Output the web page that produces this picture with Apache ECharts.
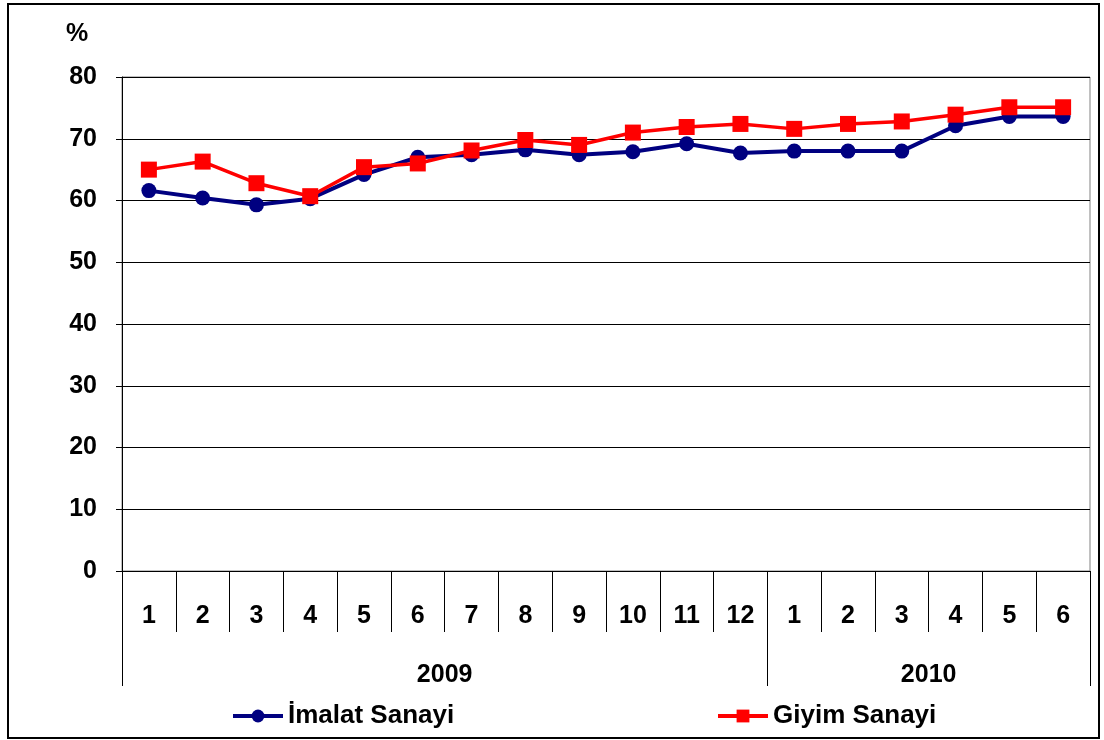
<!DOCTYPE html>
<html>
<head>
<meta charset="utf-8">
<script src="https://cdn.jsdelivr.net/npm/echarts@6/dist/echarts.min.js"></script>
<style>
  body { margin: 0; background: #fff; }
  #frame { position: absolute; left: 7px; top: 3px; width: 1089px; height: 732px; border: 2px solid #000; }
  #chart { position: absolute; left: 0; top: 0; width: 1104px; height: 740px; }
</style>
</head>
<body>
<div id="frame"></div>
<div id="chart"></div>
<script>
const monthLabels = ['1', '2', '3', '4', '5', '6', '7', '8', '9', '10', '11', '12', '1', '2', '3', '4', '5', '6'];
const years = ['2009', '2010'];
const monthsPerYear = [12, 6];
const yTicks = { min: 0, max: 80, interval: 10 };

const imalat = [61.6, 60.4, 59.3, 60.3, 64.2, 67.0, 67.4, 68.2, 67.4, 67.9, 69.2, 67.7, 68.0, 68.0, 68.0, 72.1, 73.6, 73.6];
const giyim = [65.0, 66.3, 62.8, 60.7, 65.4, 66.0, 68.1, 69.8, 69.0, 71.0, 71.9, 72.4, 71.6, 72.4, 72.8, 73.9, 75.1, 75.1];

// year axis: one slot per month boundary, label in the middle of each year group
const yearAxisData = new Array(monthLabels.length + 1).fill('');
const yearBounds = [0];
let pos = 0;
years.forEach((y, i) => {
  yearAxisData[pos + monthsPerYear[i] / 2] = y;
  pos += monthsPerYear[i];
  yearBounds.push(pos);
});

const font = 'Liberation Sans, Arial, sans-serif';
const labelStyle = { color: '#000', fontSize: 25, fontWeight: 'bold', fontFamily: font };
const myChart = echarts.init(document.getElementById('chart'));
const option = {
  animation: false,
  textStyle: { fontFamily: font },
  grid: { left: 122, right: 14, top: 77, bottom: 169, show: true, borderColor: '#808080', borderWidth: 1 },
  xAxis: [
    {
      type: 'category',
      data: monthLabels,
      boundaryGap: true,
      axisLine: { show: true, lineStyle: { color: '#000', width: 1 } },
      axisTick: { show: true, length: 61, lineStyle: { color: '#000', width: 1 }, interval: 0 },
      axisLabel: Object.assign({ interval: 0, margin: 33 }, labelStyle)
    },
    {
      type: 'category',
      data: yearAxisData,
      boundaryGap: false,
      position: 'bottom',
      axisLine: { show: false },
      axisTick: { show: true, length: 115, lineStyle: { color: '#000', width: 1 }, interval: (i) => yearBounds.includes(i) },
      axisLabel: Object.assign({ interval: 0, margin: 92 }, labelStyle)
    }
  ],
  yAxis: {
    type: 'value',
    min: yTicks.min,
    max: yTicks.max,
    interval: yTicks.interval,
    name: '%',
    nameLocation: 'end',
    nameGap: 30,
    nameTextStyle: Object.assign({ padding: [0, 90, 0, 0] }, labelStyle),
    axisLine: { show: true, lineStyle: { color: '#000' } },
    axisTick: { show: true, length: 6, lineStyle: { color: '#000' } },
    axisLabel: Object.assign({ margin: 25 }, labelStyle),
    splitLine: { lineStyle: { color: '#000', width: 1 } }
  },
  legend: [
    {
      data: ['İmalat Sanayi'],
      left: 226, top: 698,
      itemWidth: 50, itemHeight: 16, itemGap: 10,
      lineStyle: { width: 4 },
      textStyle: { color: '#000', fontSize: 26, fontWeight: 'bold', fontFamily: font }
    },
    {
      data: ['Giyim Sanayi'],
      left: 711, top: 698,
      itemWidth: 50, itemHeight: 16, itemGap: 10,
      lineStyle: { width: 4 },
      textStyle: { color: '#000', fontSize: 26, fontWeight: 'bold', fontFamily: font }
    }
  ],
  series: [
    {
      name: 'İmalat Sanayi',
      type: 'line',
      data: imalat,
      symbol: 'circle',
      symbolSize: 15,
      color: '#000080',
      lineStyle: { width: 4, color: '#000080' },
      itemStyle: { color: '#000080' }
    },
    {
      name: 'Giyim Sanayi',
      type: 'line',
      data: giyim,
      symbol: 'rect',
      symbolSize: 16,
      color: '#ff0000',
      lineStyle: { width: 3.5, color: '#ff0000' },
      itemStyle: { color: '#ff0000' }
    }
  ]
};
option && myChart.setOption(option);
</script>
</body>
</html>
